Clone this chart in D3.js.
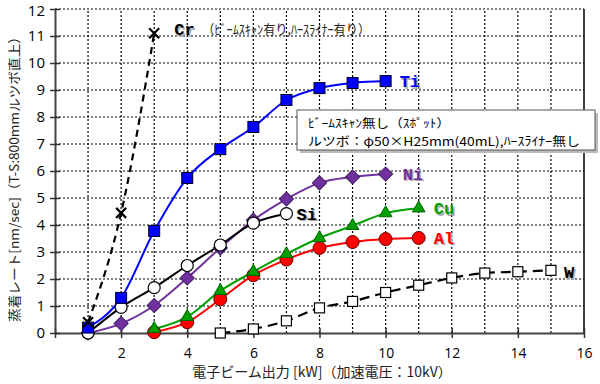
<!DOCTYPE html>
<html><head><meta charset="utf-8">
<script src="https://cdn.jsdelivr.net/npm/d3@7"></script>
<style>
body{margin:0;background:#fff;}
svg{display:block;}
</style></head>
<body>
<svg id="c" width="600" height="384"></svg>
<script>
// ---- data ----
const xTicks = [0,2,4,6,8,10,12,14,16];
const yTicks = [0,1,2,3,4,5,6,7,8,9,10,11,12];
const crX = [1,2,3];
const crY = [0.4,4.45,11.1];
const tiX = [1,2,3,4,5,6,7,8,9,10];
const tiY = [0.2,1.3,3.78,5.74,6.81,7.63,8.63,9.07,9.26,9.33];
const niX = [1,2,3,4,5,6,7,8,9,10];
const niY = [0,0.35,1.02,2.04,3.15,4.18,4.96,5.56,5.78,5.89];
const siX = [1,2,3,4,5,6,7];
const siY = [0,0.95,1.68,2.5,3.26,4.07,4.42];
const cuX = [3,4,5,6,7,8,9,10,11];
const cuY = [0.15,0.6,1.56,2.27,2.93,3.52,3.97,4.44,4.62];
const alX = [3,4,5,6,7,8,9,10,11];
const alY = [0.03,0.4,1.25,2.14,2.72,3.15,3.37,3.48,3.52];
const wX = [5,6,7,8,9,10,11,12,13,14,15];
const wY = [0,0.15,0.45,0.93,1.17,1.5,1.77,2.04,2.22,2.27,2.32];
const xLabel = "電子ビーム出力 [kW]（加速電圧：10kV）";
const yLabel = "蒸着レート[nm/sec]（T-S:800mmルツボ直上）";
const noteLines = ["ﾋﾞｰﾑｽｷｬﾝ無し（ｽﾎﾟｯﾄ）","ルツボ：φ50×H25mm(40mL),ﾊｰｽﾗｲﾅｰ無し"];
const crNote = "（ﾋﾞｰﾑｽｷｬﾝ有り,ﾊｰｽﾗｲﾅｰ有り）";

const svg = d3.select("#c");
const x = d3.scaleLinear().domain([0,16]).range([55,584]);
const y = d3.scaleLinear().domain([0,12]).range([333,9]);

// grid
const grid = svg.append("g");
grid.selectAll("line.v").data(d3.range(1,16)).join("line")
  .attr("x1",d=>x(d)).attr("x2",d=>x(d)).attr("y1",y(0)).attr("y2",y(12))
  .attr("stroke","#000").attr("stroke-width",1.2).attr("stroke-dasharray","2,2");
grid.selectAll("line.h").data(d3.range(1,13)).join("line")
  .attr("x1",x(0)).attr("x2",x(16)).attr("y1",d=>y(d)).attr("y2",d=>y(d))
  .attr("stroke","#000").attr("stroke-width",1.2).attr("stroke-dasharray","2,2");
svg.append("line").attr("x1",x(16)).attr("x2",x(16)).attr("y1",y(12)).attr("y2",y(0))
  .attr("stroke","#000").attr("stroke-width",1.5);

// axes
const tickFont = "'Open Sans', 'Noto Sans', sans-serif";
const xa = svg.append("g").attr("transform",`translate(0,${y(0)})`)
  .call(d3.axisBottom(x).tickValues(xTicks).tickSize(5).tickSizeOuter(0).tickPadding(10));
xa.selectAll(".tick line").attr("y1",-5).attr("stroke","#333").attr("stroke-width",1.5);
xa.select(".domain").attr("stroke","#444").attr("stroke-width",2);
xa.selectAll("text").attr("font-family",tickFont).attr("font-size",14).attr("fill","#000");
xa.selectAll(".tick").filter(d=>d===0).select("text").remove();

const ya = svg.append("g").attr("transform",`translate(${x(0)},0)`)
  .call(d3.axisLeft(y).tickValues(yTicks).tickSize(5).tickSizeOuter(0).tickPadding(5));
ya.selectAll(".tick line").attr("x1",5).attr("stroke","#333").attr("stroke-width",1.5);
ya.select(".domain").attr("stroke","#444").attr("stroke-width",2);
ya.selectAll("text").attr("font-family",tickFont).attr("font-size",15).attr("fill","#000");
ya.selectAll(".tick").filter(d=>d===12).select("text").attr("dy","0.38em").attr("y",1);

// axis labels
svg.append("text").attr("x",322).attr("y",377).attr("text-anchor","middle")
  .attr("font-family","'Noto Sans CJK JP', sans-serif").attr("font-size",14).attr("fill","#222")
  .text(xLabel);
svg.append("text").attr("transform","translate(19,176) rotate(-90)").attr("text-anchor","middle")
  .attr("font-family","'Noto Sans CJK JP', sans-serif").attr("font-size",13).attr("fill","#222")
  .attr("textLength",292).attr("lengthAdjust","spacingAndGlyphs")
  .text(yLabel);

// series
const curve = d3.curveMonotoneX;
function series(xs, ys, color, width, dash){
  const pts = xs.map((v,i)=>[v,ys[i]]);
  const line = d3.line().x(d=>x(d[0])).y(d=>y(d[1])).curve(curve);
  svg.append("path").datum(pts).attr("d",line).attr("fill","none")
    .attr("stroke",color).attr("stroke-width",width).attr("stroke-dasharray",dash||null);
  return pts;
}
const wPts = series(wX,wY,"#000",2.2,"10,6");
const alPts = series(alX,alY,"#ff0000",2);
const cuPts = series(cuX,cuY,"#00a000",2);
const niPts = series(niX,niY,"#7030a0",2);
const siPts = series(siX,siY,"#000",2);
const tiPts = series(tiX,tiY,"#0000ff",2);
const crPts = series(crX,crY,"#000",2.2,"7,5");

// markers
svg.append("g").selectAll("rect").data(wPts).join("rect")
  .attr("x",d=>x(d[0])-5).attr("y",d=>y(d[1])-5).attr("width",10).attr("height",10)
  .attr("fill","#fff").attr("stroke","#000").attr("stroke-width",1.2);
svg.append("g").selectAll("circle").data(alPts).join("circle")
  .attr("cx",d=>x(d[0])).attr("cy",d=>y(d[1])).attr("r",6.5)
  .attr("fill","#ff0000").attr("stroke","#600").attr("stroke-width",1);
svg.append("g").selectAll("path").data(cuPts).join("path")
  .attr("transform",d=>`translate(${x(d[0])},${y(d[1])})`)
  .attr("d",d3.symbol(d3.symbolTriangle,70)())
  .attr("fill","#00a000").attr("stroke","#060").attr("stroke-width",1);
svg.append("g").selectAll("path").data(niPts).join("path")
  .attr("transform",d=>`translate(${x(d[0])},${y(d[1])}) rotate(45)`)
  .attr("d","M-5,-5H5V5H-5Z")
  .attr("fill","#7030a0").attr("stroke","#402060").attr("stroke-width",1);
svg.append("g").selectAll("circle").data(siPts).join("circle")
  .attr("cx",d=>x(d[0])).attr("cy",d=>y(d[1])).attr("r",6)
  .attr("fill","#fff").attr("stroke","#000").attr("stroke-width",1.2);
svg.append("g").selectAll("rect").data(tiPts).join("rect")
  .attr("x",d=>x(d[0])-5.5).attr("y",d=>y(d[1])-5.5).attr("width",11).attr("height",11)
  .attr("fill","#0000ff").attr("stroke","#002").attr("stroke-width",1);
svg.append("g").selectAll("path").data(crPts).join("path")
  .attr("transform",d=>`translate(${x(d[0])},${y(d[1])})`)
  .attr("d","M-5,-5L5,5M-5,5L5,-5")
  .attr("stroke","#000").attr("stroke-width",2.2);

// series labels
const monoFont = "'Liberation Mono', 'DejaVu Sans Mono', monospace";
function label(tx,ty,str,color,size){
  svg.append("text").attr("x",tx+1.5).attr("y",ty+1.5).text(str)
    .attr("font-family",monoFont).attr("font-weight","bold").attr("font-size",size||17).attr("fill","#aaa");
  svg.append("text").attr("x",tx).attr("y",ty).text(str)
    .attr("font-family",monoFont).attr("font-weight","bold").attr("font-size",size||17).attr("fill",color);
}
label(x(3)+20, y(11.1)+2, "Cr", "#000");
svg.append("text").attr("x",x(3)+48).attr("y",y(11.1)+1)
  .attr("font-family","'Noto Sans CJK JP', sans-serif").attr("font-size",13).attr("fill","#222")
  .attr("textLength",168).attr("lengthAdjust","spacingAndGlyphs")
  .text(crNote);
label(x(10)+14, y(9.33)+6, "Ti", "#0000ff");
label(x(10)+17, y(5.89)+6, "Ni", "#7030a0");
label(x(7)+10, y(4.42)+6, "Si", "#000");
label(x(11)+15, y(4.62)+6, "Cu", "#00a000");
label(x(11)+15, y(3.52)+6, "Al", "#ff0000");
label(x(15)+13, y(2.32)+8, "W", "#000");

// note box
const nb = svg.append("g");
nb.append("rect").attr("x",300).attr("y",113).attr("width",298).attr("height",40).attr("fill","#bbb");
nb.append("rect").attr("x",297).attr("y",110).attr("width",298).attr("height",40)
  .attr("fill","#fff").attr("stroke","#555").attr("stroke-width",1);
nb.selectAll("text").data(noteLines).join("text")
  .attr("x",308).attr("y",(d,i)=>128+i*17.5)
  .attr("font-family","'Noto Sans CJK JP', sans-serif").attr("font-size",12).attr("fill","#000")
  .attr("textLength",(d,i)=>i===0?142:272).attr("lengthAdjust","spacingAndGlyphs")
  .text(d=>d);
</script>
</body></html>
